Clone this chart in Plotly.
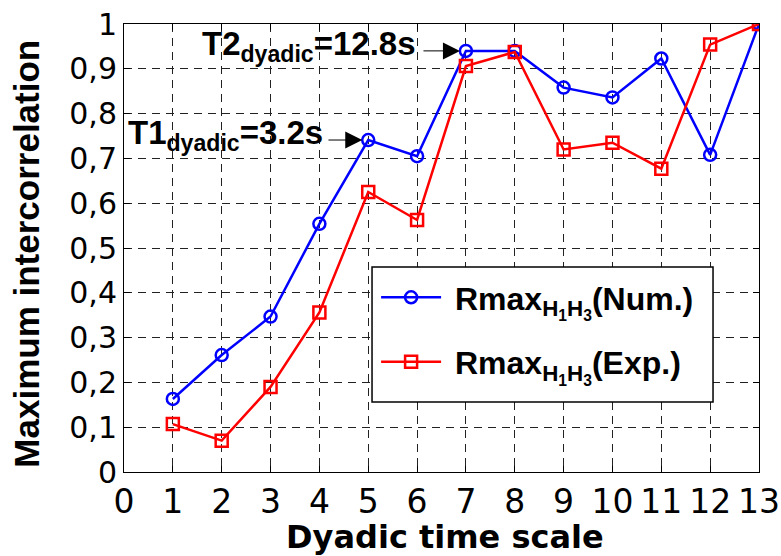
import plotly.graph_objects as go

scales = list(range(1, 14))
rmax_num = [0.163, 0.261, 0.347, 0.554, 0.741, 0.705, 0.940, 0.940, 0.858, 0.836, 0.923, 0.708, 1.0]
rmax_exp = [0.107, 0.070, 0.190, 0.356, 0.625, 0.5625, 0.906, 0.9375, 0.720, 0.735, 0.677, 0.954, 1.0]
x_ticks = list(range(0, 14))
y_ticks = [0, 0.1, 0.2, 0.3, 0.4, 0.5, 0.6, 0.7, 0.8, 0.9, 1.0]
y_tick_labels = ["0", "0,1", "0,2", "0,3", "0,4", "0,5", "0,6", "0,7", "0,8", "0,9", "1"]

WIDE = "DejaVu Sans, Verdana, sans-serif"
ARIAL = "Liberation Sans, Arial, sans-serif"
NB = "\u00a0"

fig = go.Figure()
fig.add_trace(go.Scatter(
    x=scales, y=rmax_num, mode="lines+markers", legendgroup="num",
    name=NB + "<b>Rmax<sub>H<sub>1</sub>H<sub>3</sub></sub>(Num.)</b>",
    line=dict(color="#0000ff", width=2.5),
    marker=dict(symbol="circle-open", size=12, color="#0000ff", line=dict(width=2.5)),
))
fig.add_trace(go.Scatter(
    x=scales, y=rmax_exp, mode="lines+markers", legendgroup="exp",
    name=NB + "<b>Rmax<sub>H<sub>1</sub>H<sub>3</sub></sub>(Exp.)</b>",
    line=dict(color="#ff0000", width=2.5),
    marker=dict(symbol="square-open", size=12, color="#ff0000", line=dict(width=2.5)),
))

axis_common = dict(
    showline=True, linecolor="black", linewidth=1, mirror="ticks",
    ticks="inside", ticklen=6, tickcolor="black",
    showgrid=True, gridcolor="#222222", gridwidth=1, griddash="8px,6px",
    zeroline=False, automargin=False,
)

fig.update_xaxes(
    range=[0, 13], tickmode="array", tickvals=x_ticks,
    ticktext=[str(v) for v in x_ticks],
    tickfont=dict(family=WIDE, size=33, color="black"),
    **axis_common,
)
fig.update_yaxes(
    range=[0, 1], tickmode="array", tickvals=y_ticks, ticktext=y_tick_labels,
    tickfont=dict(family=WIDE, size=30, color="black"),
    **axis_common,
)

# legend box
fig.add_shape(type="rect", xref="paper", yref="paper",
              x0=0.3906, x1=0.9276, y0=0.1563, y1=0.4576,
              fillcolor="white", line=dict(color="black", width=1.5), layer="above")

# axis titles
fig.add_annotation(x=0.505, y=-0.145, xref="paper", yref="paper", xanchor="center", yanchor="middle",
                   text="<b>Dyadic time scale</b>", showarrow=False,
                   font=dict(family=WIDE, size=32, color="black"))
fig.add_annotation(x=-0.153, y=0.487, xref="paper", yref="paper", xanchor="center", yanchor="middle",
                   text="<b>Maximum intercorrelation</b>", showarrow=False, textangle=-90,
                   font=dict(family=ARIAL, size=35, color="black"))

# arrows
fig.add_annotation(x=5, y=rmax_num[4], ax=4.155, ay=rmax_num[4], xref="x", yref="y", axref="x", ayref="y",
                   text="", showarrow=True, arrowhead=2, arrowsize=3.4, arrowwidth=1, arrowcolor="black", standoff=6)
fig.add_annotation(x=7, y=rmax_num[6], ax=6.1, ay=rmax_num[6], xref="x", yref="y", axref="x", ayref="y",
                   text="", showarrow=True, arrowhead=2, arrowsize=3.4, arrowwidth=1, arrowcolor="black", standoff=6)
# labels
fig.add_annotation(x=4.115, y=rmax_num[4], xref="x", yref="y", xanchor="right", yanchor="middle",
                   text="<b>T1<sub>dyadic</sub>=3.2s</b>", showarrow=False, yshift=5,
                   font=dict(family=ARIAL, size=33, color="black"))
fig.add_annotation(x=6.02, y=rmax_num[6], xref="x", yref="y", xanchor="right", yanchor="middle",
                   text="<b>T2<sub>dyadic</sub>=12.8s</b>", showarrow=False, yshift=5,
                   font=dict(family=ARIAL, size=33, color="black"))

fig.update_layout(
    width=781, height=556,
    margin=dict(l=124, r=22, t=24, b=84),
    paper_bgcolor="white", plot_bgcolor="white",
    showlegend=True,
    legend=dict(x=0.397, y=0.451, xanchor="left", yanchor="top",
                bgcolor="rgba(0,0,0,0)", borderwidth=0,
                traceorder="grouped", tracegroupgap=20, itemwidth=60,
                font=dict(family=ARIAL, size=32, color="black")),
    font=dict(family=WIDE),
)

fig.write_html("out.html", config={"displayModeBar": False},
               post_script="document.body.style.margin='0';")
